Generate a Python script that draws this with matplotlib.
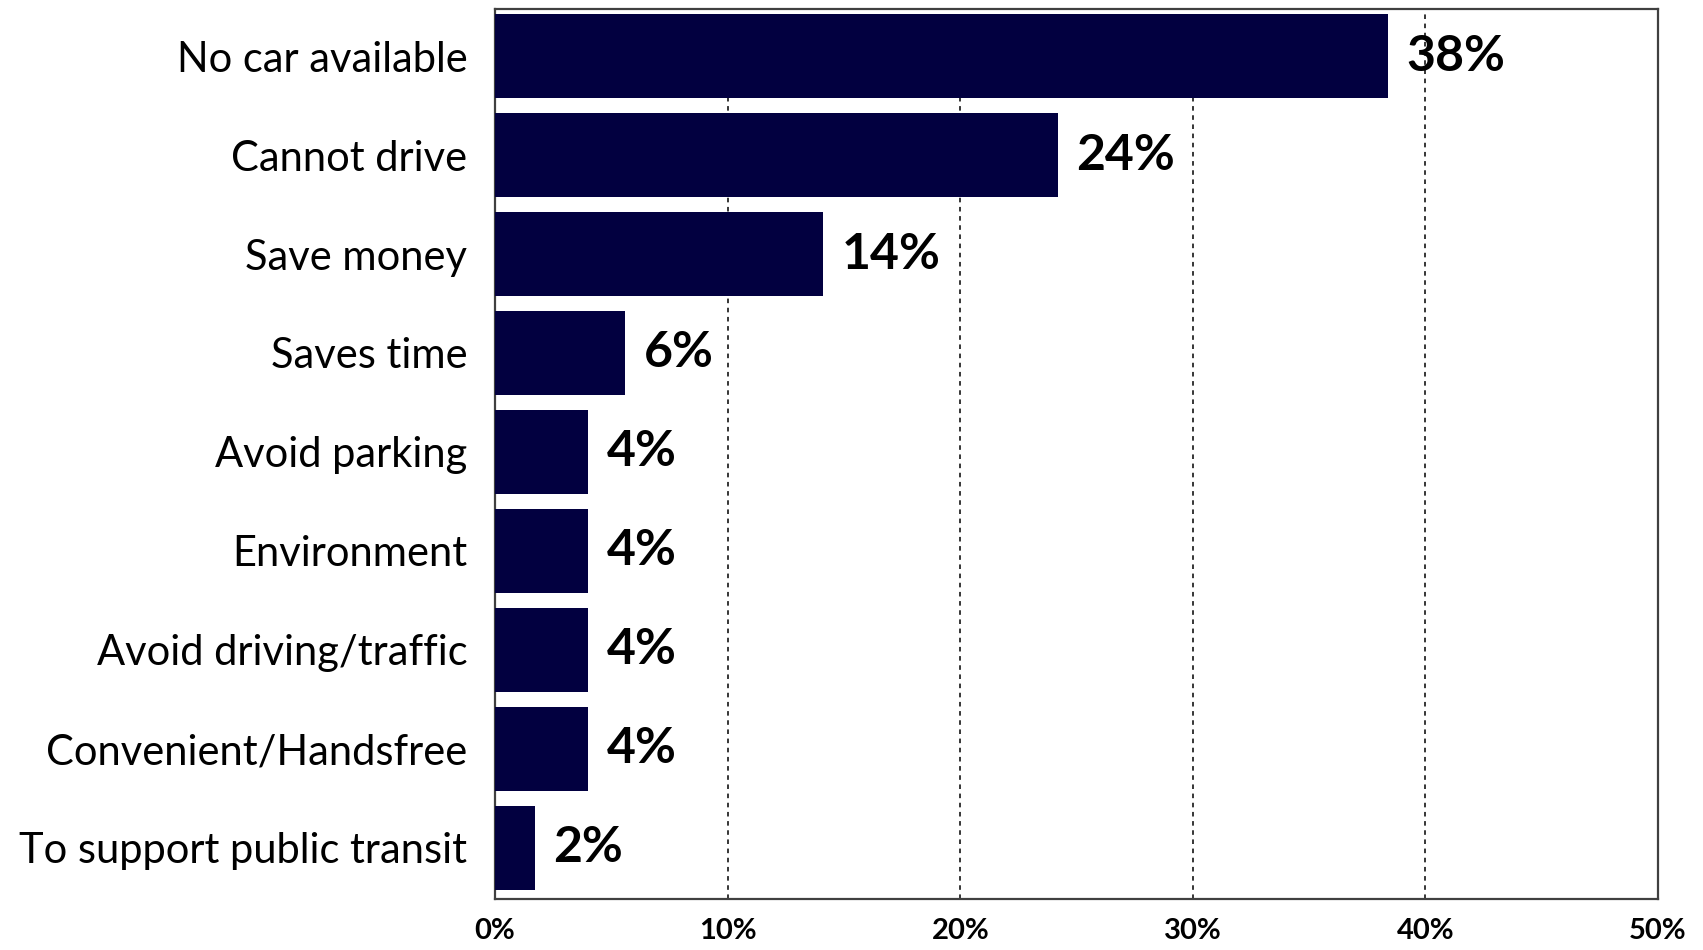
import matplotlib
matplotlib.use("Agg")
import matplotlib.pyplot as plt
from matplotlib.ticker import FuncFormatter

# reasons for using the service, share of respondents (%)
reasons = [
    "No car available",
    "Cannot drive",
    "Save money",
    "Saves time",
    "Avoid parking",
    "Environment",
    "Avoid driving/traffic",
    "Convenient/Handsfree",
    "To support public transit",
]
shares = [38.4, 24.2, 14.1, 5.6, 4.0, 4.0, 4.0, 4.0, 1.7]
x_ticks = [0, 10, 20, 30, 40, 50]

bar_color = "#020040"
plt.rcParams["font.family"] = ["Lato", "DejaVu Sans"]

fig = plt.figure(figsize=(17.03, 9.5), dpi=100)
ax = fig.add_axes([0.2907, 0.0537, 0.6829, 0.9371])

y = list(range(len(reasons)))
ax.barh(y, shares, height=0.85, color=bar_color, zorder=3)

for yi, v in zip(y, shares):
    ax.text(v + 0.8, yi, f"{v:.0f}%", va="center", ha="left",
            fontsize=36, fontweight="bold", color="black", zorder=4)

ax.set_xlim(0, 50)
ax.set_ylim(8.52, -0.48)
ax.set_xticks(x_ticks)
ax.xaxis.set_major_formatter(FuncFormatter(lambda v, _: f"{v:.0f}%"))
ax.set_yticks(y)
ax.set_yticklabels(reasons)

ax.tick_params(axis="x", length=0, pad=14, labelsize=21)
ax.tick_params(axis="y", length=0, pad=20, labelsize=30)
for lbl in ax.get_xticklabels():
    lbl.set_fontweight("bold")

# dashed vertical guides at inner ticks
for t in x_ticks[1:-1]:
    ax.axvline(t, color="black", linestyle=(0, (3, 3)), linewidth=1.1, zorder=1)

for s in ax.spines.values():
    s.set_color("#404040")
    s.set_linewidth(1.6)

fig.savefig("out.png", dpi=100)
